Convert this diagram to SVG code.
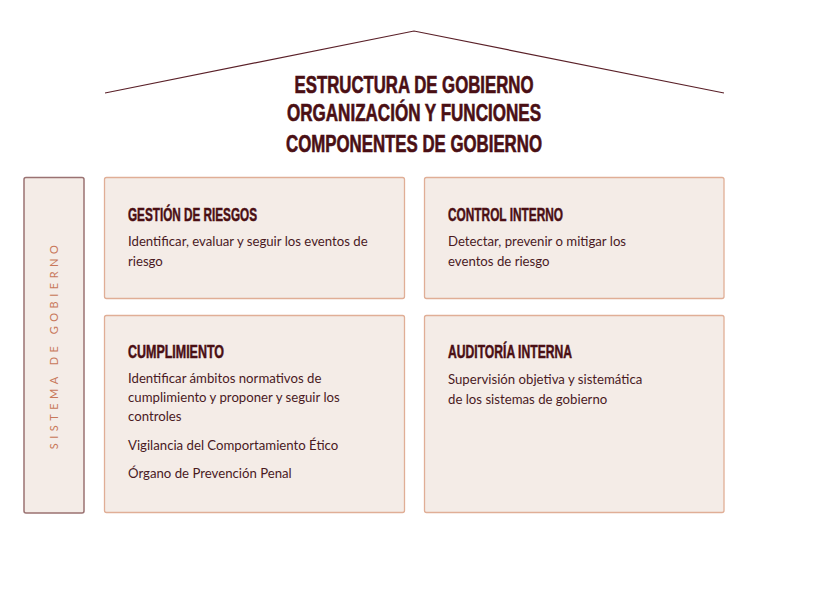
<svg xmlns="http://www.w3.org/2000/svg" width="830" height="590" viewBox="0 0 830 590">
<style>
.box{fill:#f4ece7;stroke:#e0ae96;stroke-width:1.3}
.side{fill:#f4ece7;stroke:#9a7272;stroke-width:1.5}
.head{font-family:"Liberation Sans",Arial,sans-serif;font-weight:bold;fill:#4a0f14;stroke:#4a0f14;stroke-width:0.5}
.title{font-family:"Liberation Sans",Arial,sans-serif;font-weight:bold;fill:#4a0f14;stroke:#4a0f14;stroke-width:0.6;font-size:23px}
.body{font-family:Lato,"Liberation Sans",sans-serif;font-size:13.2px;fill:#4a1a1f}
.vert{font-family:Lato,"Liberation Sans",sans-serif;font-size:11px;fill:#c8785a;letter-spacing:4.5px}
</style>
<rect width="830" height="590" fill="#ffffff"/>
<g id="connectors">
<polyline points="105,93 414,31 724,93" fill="none" stroke="#5a2028" stroke-width="1.2"/>
</g>
<g id="title">
<text class="title" x="414" y="93" text-anchor="middle" textLength="239" lengthAdjust="spacingAndGlyphs">ESTRUCTURA DE GOBIERNO</text>
<text class="title" x="414" y="121" text-anchor="middle" textLength="254" lengthAdjust="spacingAndGlyphs">ORGANIZACIÓN Y FUNCIONES</text>
<text class="title" x="414" y="152" text-anchor="middle" textLength="256" lengthAdjust="spacingAndGlyphs">COMPONENTES DE GOBIERNO</text>
</g>
<g id="sistema">
<rect class="side" x="24" y="177.5" width="60" height="335.5" rx="2"/>
<text class="vert" transform="translate(58,345) rotate(-90)" text-anchor="middle">SISTEMA DE GOBIERNO</text>
</g>
<g id="gestion">
<rect class="box" x="104.5" y="177.5" width="300" height="121" rx="2"/>
<text class="head" x="128" y="221" font-size="18" textLength="129" lengthAdjust="spacingAndGlyphs">GESTIÓN DE RIESGOS</text>
<text class="body" x="128" y="246">Identificar, evaluar y seguir los eventos de</text>
<text class="body" x="128" y="266">riesgo</text>
</g>
<g id="control">
<rect class="box" x="424.5" y="177.5" width="299.5" height="121" rx="2"/>
<text class="head" x="448" y="221" font-size="18" textLength="115" lengthAdjust="spacingAndGlyphs">CONTROL INTERNO</text>
<text class="body" x="448" y="246">Detectar, prevenir o mitigar los</text>
<text class="body" x="448" y="266">eventos de riesgo</text>
</g>
<g id="cumplimiento">
<rect class="box" x="104.5" y="315.5" width="300" height="197" rx="2"/>
<text class="head" x="128" y="358" font-size="18" textLength="96" lengthAdjust="spacingAndGlyphs">CUMPLIMIENTO</text>
<text class="body" x="128" y="383">Identificar ámbitos normativos de</text>
<text class="body" x="128" y="402">cumplimiento y proponer y seguir los</text>
<text class="body" x="128" y="421">controles</text>
<text class="body" x="128" y="450">Vigilancia del Comportamiento Ético</text>
<text class="body" x="128" y="478">Órgano de Prevención Penal</text>
</g>
<g id="auditoria">
<rect class="box" x="424.5" y="315.5" width="299.5" height="197" rx="2"/>
<text class="head" x="448" y="358" font-size="18" textLength="124" lengthAdjust="spacingAndGlyphs">AUDITORÍA INTERNA</text>
<text class="body" x="448" y="384">Supervisión objetiva y sistemática</text>
<text class="body" x="448" y="404">de los sistemas de gobierno</text>
</g>
</svg>
